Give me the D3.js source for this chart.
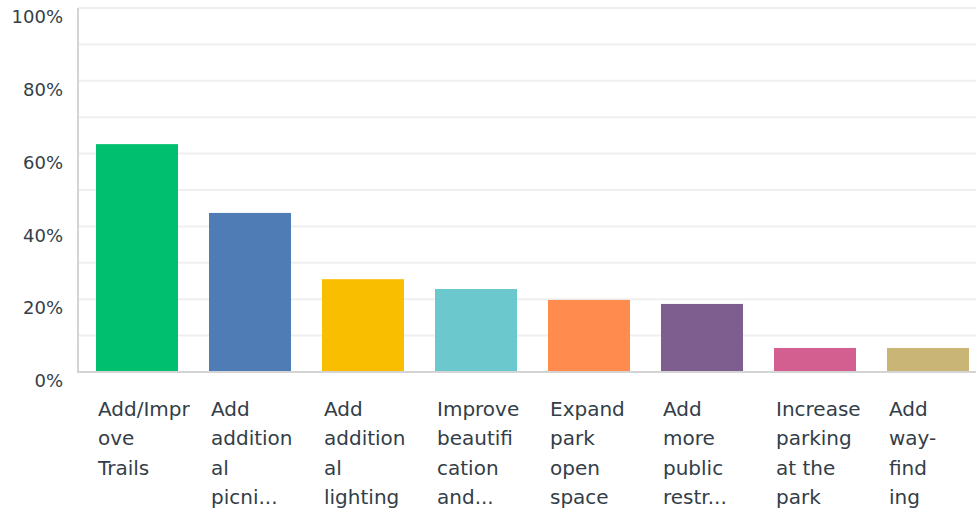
<!DOCTYPE html>
<html>
<head>
<meta charset="utf-8">
<script src="https://cdn.jsdelivr.net/npm/d3@7"></script>
<style>
  html, body { margin: 0; padding: 0; background: #fff; }
  svg { display: block; }
  text { font-family: "DejaVu Sans", "Noto Sans", sans-serif; fill: #333e48; }
</style>
</head>
<body>
<svg id="chart" width="976" height="512"></svg>
<script>
// Answer options, pre-wrapped into display lines
const categories = [
  "Add/Improve Trails",
  "Add additional picnic",
  "Add additional lighting",
  "Improve beautification and",
  "Expand park open space",
  "Add more public restrooms",
  "Increase parking at the park",
  "Add way-finding"
];
const labelLines = [
  ["Add/Impr", "ove", "Trails"],
  ["Add", "addition", "al", "picni..."],
  ["Add", "addition", "al", "lighting"],
  ["Improve", "beautifi", "cation", "and..."],
  ["Expand", "park", "open", "space"],
  ["Add", "more", "public", "restr..."],
  ["Increase", "parking", "at the", "park"],
  ["Add", "way-", "find", "ing"]
];
// Share of respondents (%)
const values = [62.6, 43.7, 25.5, 22.8, 19.8, 18.7, 6.6, 6.6];
const colors = ["#00bf6f", "#507cb6", "#f9be00", "#6bc8cd", "#ff8b4f", "#7d5e8f", "#d35e90", "#c9b677"];
const yTicks = [0, 20, 40, 60, 80, 100];
const gridTicks = [10, 20, 30, 40, 50, 60, 70, 80, 90, 100];

const svg = d3.select("#chart");
const plotLeft = 78, plotRight = 976, plotTop = 8, plotBottom = 372;

const x = d3.scaleBand()
  .domain(categories)
  .range([plotLeft, 987])
  .paddingInner(31 / 113)
  .paddingOuter(18 / 113);

const y = d3.scaleLinear().domain([0, 100]).range([plotBottom, plotTop]);

// Horizontal gridlines
svg.append("g")
  .selectAll("line")
  .data(gridTicks)
  .join("line")
  .attr("x1", plotLeft).attr("x2", plotRight)
  .attr("y1", d => y(d)).attr("y2", d => y(d))
  .attr("stroke", "#efefef")
  .attr("stroke-width", 2);

// Bars
svg.append("g")
  .selectAll("rect")
  .data(values)
  .join("rect")
  .attr("x", (d, i) => x(categories[i]))
  .attr("width", x.bandwidth())
  .attr("y", d => y(d))
  .attr("height", d => plotBottom - y(d))
  .attr("fill", (d, i) => colors[i]);

// Axis lines
svg.append("line")
  .attr("x1", plotLeft).attr("x2", plotLeft)
  .attr("y1", plotTop).attr("y2", plotBottom)
  .attr("stroke", "#d4d4d4").attr("stroke-width", 2);
svg.append("line")
  .attr("x1", plotLeft - 1).attr("x2", plotRight)
  .attr("y1", plotBottom).attr("y2", plotBottom)
  .attr("stroke", "#d4d4d4").attr("stroke-width", 2);

// Y axis labels
const yAxis = d3.axisLeft(y).tickValues(yTicks).tickFormat(d => d + "%").tickSize(0).tickPadding(0);
const yg = svg.append("g").attr("transform", `translate(${plotLeft - 15},9)`).call(yAxis);
yg.select(".domain").remove();
yg.selectAll("text")
  .attr("font-size", 18)
  .attr("font-family", '"DejaVu Sans", "Noto Sans", sans-serif')
  .attr("fill", "#333e48");

// Category labels
const lg = svg.append("g");
categories.forEach((c, i) => {
  const t = lg.append("text")
    .attr("x", x(c) + 2)
    .attr("y", 416)
    .attr("font-size", 20);
  labelLines[i].forEach((line, j) => {
    t.append("tspan")
      .attr("x", x(c) + 2)
      .attr("dy", j === 0 ? 0 : 29.3)
      .text(line);
  });
});
</script>
</body>
</html>
